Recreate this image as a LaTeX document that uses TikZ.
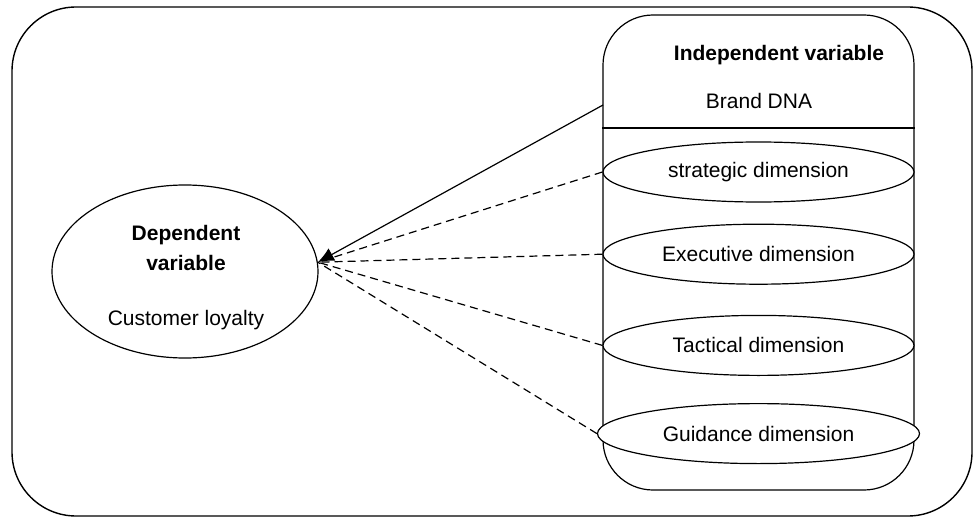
\documentclass[tikz,border=0pt]{standalone}
\usepackage{fontspec}
\setmainfont{Liberation Sans}
\usetikzlibrary{positioning, shapes.geometric, arrows.meta}

\begin{document}
\fontsize{10.5}{15}\selectfont
\begin{tikzpicture}[x=.5pt, y=-.5pt, line width=.6pt,
		dim/.style={ellipse, draw, fill=white, inner sep=0pt, minimum width=155.5pt, minimum height=30pt},
		link/.style={dashed, dash pattern=on 4pt off 2.5pt}]
		\useasboundingbox (0,0) rectangle (974,519);
		\draw[rounded corners=32pt, line width=.7pt] (12,7) rectangle (972,516);
	
		% dependent side
		\node[ellipse, draw, minimum width=133pt, minimum height=86.5pt] (dep) at (185,271.5) {};
		\node[font=\bfseries, align=center] (deptitle) at (186,248) {Dependent\\variable};
		\node[below=12pt of deptitle] (loyalty) {Customer loyalty};
	
		% independent side
		\node[draw, rounded corners=25pt, minimum width=155.5pt, minimum height=237.5pt] (indep) at (758.5,252.5) {};
		\node[font=\bfseries] (indeptitle) at (779,55) {Independent variable};
		\node[below=6.5pt of indeptitle, xshift=-10pt] (brand) {Brand DNA};
		\coordinate (split) at (0,128);
		\draw (indep.west |- split) -- (indep.east |- split);
	
		\node[dim] (strategic) at (758.5,172) {strategic dimension};
		\node[dim, below=10.5pt of strategic] (executive) {Executive dimension};
		\node[dim, below=15pt of executive] (tactical) {Tactical dimension};
		\node[dim, below=13.5pt of tactical, minimum width=161pt] (guidance) {Guidance dimension};
	
		\coordinate (brandside) at (603,105);
		\coordinate (tip) at (dep.4);
	
		\draw[-{Latex[length=8pt, width=7pt]}] (brandside) -- (tip);
		\draw[link] (strategic.west) -- (tip);
		\draw[link] (executive.west) -- (tip);
		\draw[link] (tactical.west) -- (tip);
		\draw[link] (guidance.west) -- (tip);
	\end{tikzpicture}
\end{document}
